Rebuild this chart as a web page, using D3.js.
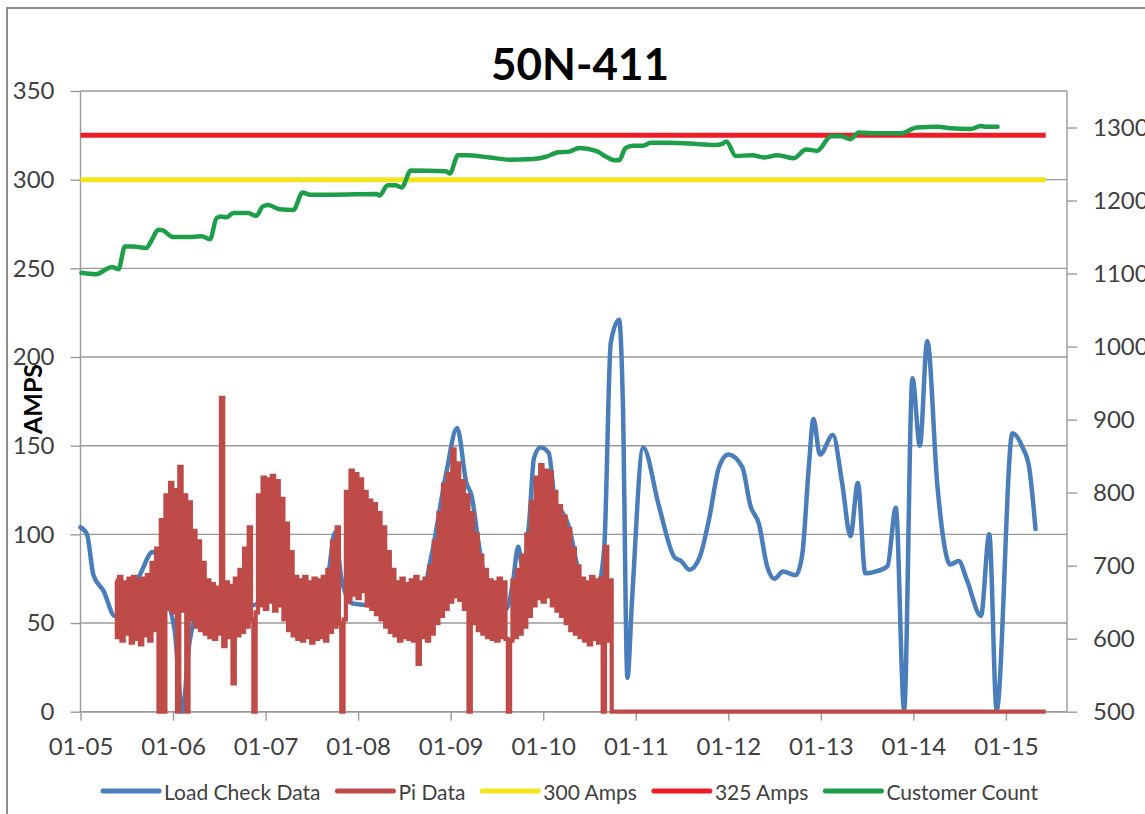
<!DOCTYPE html>
<html><head><meta charset="utf-8">
<script src="https://cdn.jsdelivr.net/npm/d3@7"></script>
<style>
html,body{margin:0;padding:0;background:#fff;}
svg{display:block;font-family:Lato,'Open Sans',sans-serif;}
</style></head><body>
<svg id="c" width="1145" height="814"></svg>
<script>
const title = "50N-411";
const yLabel = "AMPS";
const xTickDays = [0,1,2,3,4,5,6,7,8,9,10];
const xTickLabels = ["01-05","01-06","01-07","01-08","01-09","01-10","01-11","01-12","01-13","01-14","01-15"];
const ampsTicks = [0,50,100,150,200,250,300,350];
const countTicks = [500,600,700,800,900,1000,1100,1200,1300];
const seriesNames = ["Load Check Data","Pi Data","300 Amps","325 Amps","Customer Count"];

const loadCheckDays = [0.00,0.07,0.14,0.25,0.37,0.50,0.65,0.78,0.84,0.95,1.02,1.10,1.18,1.30,1.45,1.65,1.85,2.05,2.15,2.35,2.55,2.68,2.75,2.82,2.94,3.15,3.40,3.65,3.80,3.95,4.07,4.17,4.23,4.29,4.45,4.60,4.67,4.73,4.78,4.85,4.90,4.97,5.06,5.13,5.20,5.28,5.36,5.47,5.58,5.66,5.73,5.82,5.86,5.91,5.96,6.08,6.25,6.42,6.49,6.58,6.69,6.79,6.90,7.00,7.15,7.24,7.33,7.42,7.50,7.59,7.73,7.80,7.87,7.92,7.99,8.13,8.23,8.32,8.40,8.48,8.59,8.72,8.81,8.90,8.99,9.07,9.15,9.26,9.40,9.49,9.58,9.73,9.82,9.90,10.07,10.18,10.25,10.32];
const loadCheckAmps = [104,100,77,68,54,60,78,90,88,62,45,0,40,58,58,60,60,63,62,58,58,78,101,75,61,60,60,60,90,134,160,129,121,99,60,58,72,93,80,108,143,149,146,118,113,104,84,58,66,93,208,221,176,19,63,149,116,87,85,80,87,108,138,145,138,116,106,82,75,79,77,89,138,165,145,156,129,99,129,78,79,82,115,1,188,150,209,127,83,85,74,54,100,1,157,149,138,103];

const piStartDay = 0.38, piStepDay = 0.025;
const piAmps = [
 74,42,76,40,73,44,75,39,
 76,41,74,38,75,43,77,40,
 84,46,92,0,108,0,122,58,
 129,56,125,0,138,57,122,0,
 118,52,102,48,96,46,84,44,
 74,42,72,41,70,44,177,37,
 73,42,71,16,75,43,80,45,
 92,48,104,52,0,56,122,60,
 132,58,131,62,133,57,130,60,
 120,52,106,46,90,43,76,41,
 74,40,76,42,73,39,75,41,
 74,42,76,40,80,45,96,48,
 104,50,0,52,124,62,136,66,
 134,64,131,68,124,60,119,58,
 117,55,112,52,104,48,90,45,
 80,43,73,40,75,42,72,41,
 74,40,76,27,73,42,75,40,
 82,44,96,50,112,54,128,58,
 134,62,148,65,140,63,130,58,
 122,0,112,50,100,46,88,44,
 80,42,74,41,73,40,75,42,
 73,41,0,40,74,42,80,44,
 88,48,100,54,118,60,132,64,
 139,62,136,65,135,60,124,57,
 116,54,110,50,103,46,92,44,
 82,42,75,40,73,38,76,41,
 74,39,75,0,93,40,74];
const piTailDays = [5.75, 10.43];
const piTailAmps = [0, 0];

const refDays = [0, 10.43];
const amps300 = [300, 300];
const amps325 = [325, 325];

const customerDays = [0.01,0.17,0.28,0.34,0.41,0.48,0.57,0.71,0.77,0.84,0.89,1.00,1.15,1.31,1.40,1.47,1.52,1.58,1.65,1.81,1.90,1.97,2.03,2.15,2.30,2.40,2.48,2.73,3.20,3.23,3.32,3.40,3.47,3.57,3.95,3.99,4.08,4.17,4.42,4.64,4.89,5.03,5.16,5.28,5.39,5.57,5.68,5.77,5.82,5.89,5.97,6.08,6.16,6.36,6.58,6.86,6.94,6.98,7.08,7.26,7.39,7.53,7.71,7.84,7.96,8.11,8.22,8.32,8.41,8.61,8.86,9.04,9.26,9.40,9.62,9.73,9.80,9.91];
const customerCounts = [1101,1099,1106,1109,1106,1137,1137,1135,1146,1160,1159,1150,1150,1151,1147,1176,1178,1177,1183,1183,1179,1192,1194,1188,1187,1211,1208,1208,1209,1207,1221,1221,1218,1241,1240,1237,1262,1262,1259,1256,1257,1260,1266,1267,1272,1268,1260,1255,1255,1272,1275,1275,1279,1279,1278,1276,1278,1281,1261,1262,1259,1262,1258,1270,1268,1288,1288,1284,1293,1292,1292,1300,1301,1299,1298,1302,1301,1301];

const colors = {load:"#4A7EBB", pi:"#BE4B48", a300:"#F4E41C", a325:"#EC1D25", cust:"#1E9E48"};

const svg = d3.select("#c");
svg.append("rect").attr("width",1145).attr("height",814).attr("fill","#fff");
svg.append("rect").attr("x",7).attr("y",8).attr("width",1160).attr("height",830)
  .attr("fill","none").attr("stroke","#8c8c8c").attr("stroke-width",2);

const x = d3.scaleLinear().domain([0,10.66]).range([80.5,1067]);
const y = d3.scaleLinear().domain([0,350]).range([711.7,91]);
const y2 = d3.scaleLinear().domain([500,1350]).range([711.7,91]);

const gridC = "#9a9a9a", labC = "#404040";

// gridlines
svg.append("g").selectAll("line").data(ampsTicks).join("line")
  .attr("x1",x.range()[0]).attr("x2",x.range()[1])
  .attr("y1",d=>y(d)).attr("y2",d=>y(d))
  .attr("stroke",gridC).attr("stroke-width",1.4);

// axes
const fs = "24px";
const gL = svg.append("g").attr("transform",`translate(${x.range()[0]},0)`)
  .call(d3.axisLeft(y).tickValues(ampsTicks).tickSize(10).tickPadding(16));
const gR = svg.append("g").attr("transform",`translate(${x.range()[1]},0)`)
  .call(d3.axisRight(y2).tickValues(countTicks).tickFormat(d3.format("d")).tickSize(10).tickPadding(16));
const gB = svg.append("g").attr("transform",`translate(0,${y(0)})`)
  .call(d3.axisBottom(x).tickValues(xTickDays).tickFormat((d,i)=>xTickLabels[i]).tickSize(9).tickPadding(17));
[gL,gR,gB].forEach(g=>{
  g.select(".domain").attr("stroke",gridC).attr("stroke-width",1.4);
  g.selectAll(".tick line").attr("stroke",gridC).attr("stroke-width",1.4);
  g.selectAll(".tick text").attr("fill",labC).style("font-size",fs).style("font-family","Lato,'Open Sans',sans-serif");
});
gL.select(".domain").attr("d",`M0,${y(350)}V${y(0)}`);
gR.select(".domain").attr("d",`M0,${y2(1350)}V${y2(500)}`);
gB.select(".domain").attr("d",`M${x.range()[0]},0H${x.range()[1]}`);

// series
const lineAmps = d3.line().x(d=>x(d[0])).y(d=>y(d[1]));
const stepAmps = d3.line().x(d=>x(d[0])).y(d=>y(d[1])).curve(d3.curveStep);
const smoothAmps = d3.line().x(d=>x(d[0])).y(d=>y(d[1])).curve(d3.curveMonotoneX);
const smoothCount = d3.line().x(d=>x(d[0])).y(d=>y2(d[1])).curve(d3.curveMonotoneX);

const loadData = loadCheckDays.map((d,i)=>[d,loadCheckAmps[i]]);
const piData = piAmps.map((v,i)=>[piStartDay+i*piStepDay, v]).concat(piTailDays.map((d,i)=>[d,piTailAmps[i]]));
const custData = customerDays.map((d,i)=>[d,customerCounts[i]]);

svg.append("path").datum(loadData).attr("d",smoothAmps)
  .attr("fill","none").attr("stroke",colors.load).attr("stroke-width",4.5).attr("stroke-linejoin","round").attr("stroke-linecap","round");
svg.append("path").datum(piData).attr("d",stepAmps)
  .attr("fill","none").attr("stroke",colors.pi).attr("stroke-width",4.2).attr("stroke-linejoin","miter");
svg.append("path").datum(refDays.map((d,i)=>[d,amps300[i]])).attr("d",lineAmps)
  .attr("fill","none").attr("stroke",colors.a300).attr("stroke-width",5);
svg.append("path").datum(refDays.map((d,i)=>[d,amps325[i]])).attr("d",lineAmps)
  .attr("fill","none").attr("stroke",colors.a325).attr("stroke-width",5);
svg.append("path").datum(custData).attr("d",smoothCount)
  .attr("fill","none").attr("stroke",colors.cust).attr("stroke-width",4.5).attr("stroke-linejoin","round").attr("stroke-linecap","round");

// title
svg.append("text").attr("x",580).attr("y",80).attr("text-anchor","middle")
  .style("font-size","44px").style("font-weight","bold").attr("fill","#000").text(title);
// y label
svg.append("text").attr("transform","translate(32,399) rotate(-90)").attr("text-anchor","middle")
  .attr("dominant-baseline","central").style("font-size","25px").style("font-weight","bold").attr("fill","#000").text(yLabel);

// legend
const legCols = [colors.load,colors.pi,colors.a300,colors.a325,colors.cust];
const leg = svg.append("g");
let lx = 0;
seriesNames.forEach((n,i)=>{
  const g = leg.append("g").attr("transform",`translate(${lx},0)`);
  g.append("line").attr("x1",1).attr("x2",57).attr("y1",0).attr("y2",0)
    .attr("stroke",legCols[i]).attr("stroke-width",5).attr("stroke-linecap","round");
  const t = g.append("text").attr("x",62).attr("y",0).attr("dominant-baseline","central")
    .style("font-size","21px").attr("fill",labC).text(n);
  lx += 62 + t.node().getComputedTextLength() + 16;
});
lx -= 16;
leg.attr("transform",`translate(${570 - lx/2},791)`);
</script>
</body></html>
